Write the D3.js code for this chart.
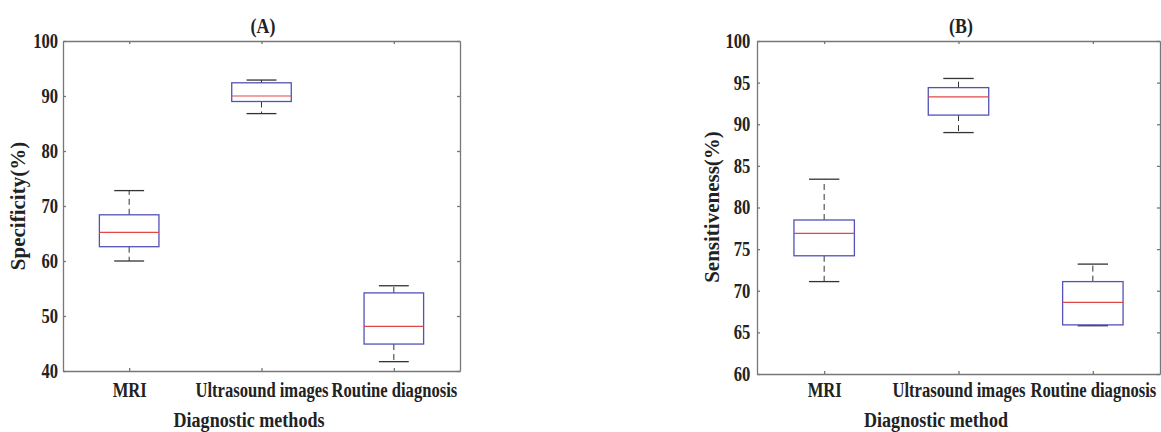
<!DOCTYPE html>
<html>
<head>
<meta charset="utf-8">
<script src="https://cdn.jsdelivr.net/npm/d3@7"></script>
<style>
  body { margin: 0; background: #fff; }
  svg text { font-family: "Liberation Serif", "Times New Roman", serif; font-weight: bold; fill: #222; }
</style>
</head>
<body>
<svg id="chart" width="1161" height="432"></svg>
<script>
// categories shared by both panels
const methods = ["MRI", "Ultrasound images", "Routine diagnosis"];

// box stats per method: [lower whisker, Q1, median, Q3, upper whisker]
const specificity = [
  [60.0, 62.6, 65.2, 68.4, 72.8],
  [86.8, 89.0, 90.0, 92.4, 92.9],
  [41.7, 44.9, 48.1, 54.2, 55.5]
];
const sensitiveness = [
  [71.1, 74.2, 76.9, 78.5, 83.4],
  [89.0, 91.1, 93.3, 94.4, 95.5],
  [65.8, 65.9, 68.6, 71.1, 73.2]
];

const specTicks = [40, 50, 60, 70, 80, 90, 100];
const sensTicks = [60, 65, 70, 75, 80, 85, 90, 95, 100];

const svg = d3.select("#chart");

// the original figure is a bit squeezed sideways, so text is narrowed
function squeezedText(g, x, y, size, sx, label) {
  return g.append("text")
    .attr("transform", `translate(${x},${y}) scale(${sx},1)`)
    .attr("text-anchor", "middle").attr("font-size", size).text(label);
}

function drawPanel(opts) {
  const x = d3.scaleLinear().domain([0.5, 3.5]).range([opts.left, opts.right]);
  const y = d3.scaleLinear().domain(opts.domain).range([opts.bottom, opts.top]);
  const g = svg.append("g");
  const axisColor = "#777";

  // frame axes, ticks pointing inward like matlab
  const left = g.append("g").attr("transform", `translate(${opts.left},0)`)
    .call(d3.axisLeft(y).tickValues(opts.ticks).tickSizeInner(-3).tickSizeOuter(0).tickPadding(opts.ypad));
  const right = g.append("g").attr("transform", `translate(${opts.right},0)`)
    .call(d3.axisRight(y).tickValues(opts.ticks).tickSizeInner(-3).tickSizeOuter(0).tickFormat(""));
  const bottom = g.append("g").attr("transform", `translate(0,${opts.bottom})`)
    .call(d3.axisBottom(x).tickValues([1, 2, 3]).tickSizeInner(-3).tickSizeOuter(0).tickPadding(opts.xpad)
      .tickFormat((d, i) => methods[i]));
  const top = g.append("g").attr("transform", `translate(0,${opts.top})`)
    .call(d3.axisTop(x).tickValues([1, 2, 3]).tickSizeInner(-3).tickSizeOuter(0).tickFormat(""));

  [left, right, bottom, top].forEach(a => {
    a.selectAll("path, line").attr("stroke", axisColor).attr("stroke-width", 1.3);
    a.selectAll("text").attr("font-size", 20).attr("fill", "#222")
      .attr("font-family", "Liberation Serif").attr("font-weight", "bold")
      .attr("transform", "scale(0.83,1)");
  });
  bottom.selectAll("text").attr("transform", "scale(0.83,1)");

  const bw = 0.225, cw = 0.113;
  const boxes = g.selectAll(".box").data(opts.stats).enter().append("g");

  // whiskers (dashed) from box to caps
  boxes.append("line")
    .attr("x1", (d, i) => x(i + 1)).attr("x2", (d, i) => x(i + 1))
    .attr("y1", d => y(d[3])).attr("y2", d => y(d[4]))
    .attr("stroke", "#333").attr("stroke-dasharray", "6,4");
  boxes.append("line")
    .attr("x1", (d, i) => x(i + 1)).attr("x2", (d, i) => x(i + 1))
    .attr("y1", d => y(d[1])).attr("y2", d => y(d[0]))
    .attr("stroke", "#333").attr("stroke-dasharray", "6,4");
  // caps
  [0, 4].forEach(k => {
    boxes.append("line")
      .attr("x1", (d, i) => x(i + 1 - cw)).attr("x2", (d, i) => x(i + 1 + cw))
      .attr("y1", d => y(d[k])).attr("y2", d => y(d[k]))
      .attr("stroke", "#333").attr("stroke-width", 1.3);
  });
  boxes.append("rect")
    .attr("x", (d, i) => x(i + 1 - bw))
    .attr("width", x(1 + bw) - x(1 - bw))
    .attr("y", d => y(d[3]))
    .attr("height", d => y(d[1]) - y(d[3]))
    .attr("fill", "none").attr("stroke", "#5252b8").attr("stroke-width", 1.3);
  boxes.append("line")
    .attr("x1", (d, i) => x(i + 1 - bw)).attr("x2", (d, i) => x(i + 1 + bw))
    .attr("y1", d => y(d[2])).attr("y2", d => y(d[2]))
    .attr("stroke", "#e04848").attr("stroke-width", 1.2);

  // titles
  squeezedText(g, opts.titleX, 33, 21, 0.85, opts.title);
  g.append("text")
    .attr("transform", `translate(${opts.ylabelX},${opts.ylabelY}) rotate(-90)`)
    .attr("text-anchor", "middle").attr("font-size", 21).text(opts.ylabel);
  squeezedText(g, opts.xlabelX, 427, 21, 0.86, opts.xlabel);
}

drawPanel({
  left: 63, right: 460, top: 41, bottom: 371, ypad: 6, xpad: 12,
  domain: [40, 100], ticks: specTicks, stats: specificity,
  title: "(A)", titleX: 263,
  ylabel: "Specificity(%)", ylabelX: 25, ylabelY: 206,
  xlabel: "Diagnostic methods", xlabelX: 249
});

drawPanel({
  left: 757, right: 1160, top: 41, bottom: 374, ypad: 8, xpad: 9,
  domain: [60, 100], ticks: sensTicks, stats: sensitiveness,
  title: "(B)", titleX: 961,
  ylabel: "Sensitiveness(%)", ylabelX: 719, ylabelY: 207,
  xlabel: "Diagnostic method", xlabelX: 936
});
</script>
</body>
</html>
